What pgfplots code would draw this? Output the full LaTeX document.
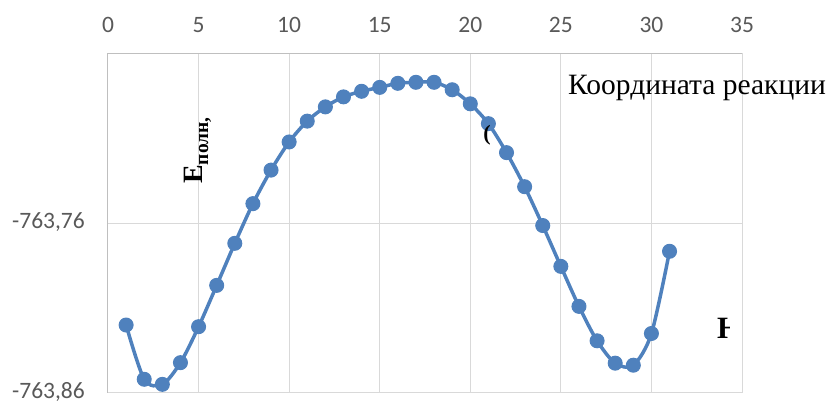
\documentclass[border=0pt]{standalone}
\usepackage{pgfplots}
\pgfplotsset{compat=1.18}
\usepackage{fontspec}
\setmainfont{Carlito}
\newfontfamily\serif{Liberation Serif}
\definecolor{lineblue}{HTML}{4F81BD}
\definecolor{gridgray}{HTML}{D9D9D9}
\definecolor{axgray}{HTML}{BFBFBF}
\definecolor{labgray}{HTML}{595959}
\begin{document}
\begin{tikzpicture}[x=1pt,y=1pt]
\useasboundingbox (0,0) rectangle (829,403);
\begin{axis}[
  at={(108pt,10pt)}, anchor=south west,
  scale only axis, width=634pt, height=339pt,
  xmin=0, xmax=35, ymin=-763.86, ymax=-763.66,
  xtick={0,5,...,35}, xticklabels={0,5,10,15,20,25,30,35},
  ytick={-763.86,-763.76}, yticklabels={{-763,86},{-763,76}},
  xticklabel pos=top,
  grid=major, major grid style={gridgray, line width=1pt},
  major tick length=0pt,
  axis line style={gridgray, line width=1pt},
  tick label style={font=\fontsize{23.5}{27}\selectfont, text=labgray, inner sep=0pt},
  xticklabel style={anchor=south, yshift=21pt},
  yticklabel style={anchor=east, xshift=-23pt, yshift=1.5pt},
  clip=false,
]
\addplot[lineblue, line width=3.5pt, smooth, tension=0.5, mark=*, mark size=7pt,
  mark options={solid, fill=lineblue, draw=lineblue, line width=1pt}] coordinates {
(1,-763.8199) (2,-763.8519) (3,-763.8549) (4,-763.8421) (5,-763.8209)
(6,-763.7965) (7,-763.7717) (8,-763.7483) (9,-763.7285) (10,-763.7119)
(11,-763.6996) (12,-763.6912) (13,-763.6853) (14,-763.6820) (15,-763.6797)
(16,-763.6773) (17,-763.6767) (18,-763.6767) (19,-763.6811) (20,-763.6894)
(21,-763.7011) (22,-763.7182) (23,-763.7383) (24,-763.7612) (25,-763.7853)
(26,-763.8089) (27,-763.8292) (28,-763.8424) (29,-763.8436) (30,-763.8249)
(31,-763.7764)
};
\draw[axgray, line width=1pt] (rel axis cs:0,0) -- (rel axis cs:0,1) -- (rel axis cs:1,1);
\end{axis}
\node[anchor=west, inner sep=0pt] at (568,315) {\serif\fontsize{29.5}{33}\selectfont Координата реакции};
\node[rotate=90, anchor=base west, inner sep=0pt] at (202,219) {\serif\bfseries\fontsize{28}{30}\selectfont Е\raisebox{-0.22em}{\fontsize{19.5}{22}\selectfont полн,}};
\node[anchor=center, inner sep=0pt] at (487,268) {\serif\bfseries\fontsize{22}{24}\selectfont (};
\begin{scope}
\clip (0,0) rectangle (729,403);
\node[anchor=base west, inner sep=0pt] at (717,64) {\serif\bfseries\fontsize{31}{34}\selectfont Н};
\end{scope}
\end{tikzpicture}
\end{document}
